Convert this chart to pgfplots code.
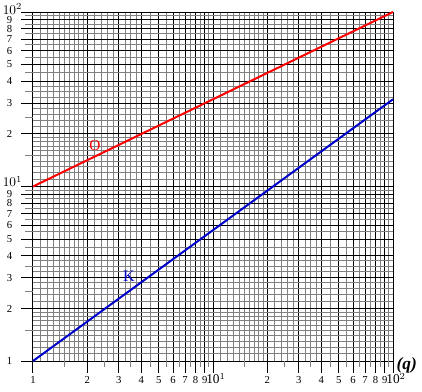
\documentclass[border=0pt]{standalone}
\usepackage{fontspec}
\setmainfont{Liberation Serif}
\usepackage{pgfplots}
\pgfplotsset{compat=1.18}
\definecolor{gridgray}{RGB}{128,128,128}
\definecolor{kblue}{RGB}{0,0,204}
\newcommand{\tenpow}[1]{{\fontsize{10}{10}\selectfont 10\rlap{$^{#1}$}}}
\begin{document}
\begin{tikzpicture}[x=1pt,y=1pt]
\begin{loglogaxis}[
  scale only axis,
  width=270pt, height=261.75pt,
  xmin=1, xmax=100, ymin=1, ymax=100,
  xtick={1,2,3,4,5,6,7,8,9,10,20,30,40,50,60,70,80,90,100},
  ytick={1,2,3,4,5,6,7,8,9,10,20,30,40,50,60,70,80,90,100},
  xticklabels={1,2,3,4,5,6,7,8,9,\tenpow{1},2,3,4,5,6,7,8,9,\tenpow{2}},
  yticklabels={1,2,3,4,5,6,7,8,9,{},2,3,4,5,6,7,8,9,{}},
  minor xtick={1.1,1.2,1.3,1.4,1.5,1.6,1.7,1.8,1.9,2.2,2.4,2.6,2.8,3.25,3.5,3.75,4.5,5.5,6.5,7.5,8.5,9.5,
               11,12,13,14,15,16,17,18,19,22,24,26,28,32.5,35,37.5,45,55,65,75,85,95},
  minor ytick={1.1,1.2,1.3,1.4,1.5,1.6,1.7,1.8,1.9,2.2,2.4,2.6,2.8,3.25,3.5,3.75,4.5,5.5,6.5,7.5,8.5,9.5,
               11,12,13,14,15,16,17,18,19,22,24,26,28,32.5,35,37.5,45,55,65,75,85,95},
  extra x ticks={1.5,2.5,3.5,4.5,5.5,6.5,7.5,8.5,9.5,15,25,35,45,55,65,75,85,95},
  extra y ticks={1.5,2.5,3.5,4.5,5.5,6.5,7.5,8.5,9.5,15,25,35,45,55,65,75,85,95},
  extra x tick labels={}, extra y tick labels={},
  extra x tick style={grid=none, xtick style={gridgray, line width=0.75pt}, major tick length=4.5pt},
  extra y tick style={grid=none, ytick style={gridgray, line width=0.75pt}, major tick length=6pt},
  grid=both,
  minor grid style={color=gridgray, line width=0.75pt},
  major grid style={color=black, line width=0.75pt},
  tick align=outside,
  xtick pos=bottom, ytick pos=left,
  major tick length=9pt,
  minor tick length=0pt,
  xtick style={black, line width=0.75pt},
  ytick style={black, line width=0.75pt},
  axis line style={black, line width=0.75pt},
  ticklabel style={font=\fontsize{8}{8}\selectfont, inner sep=0.5pt},
  xticklabel style={yshift=-1.5pt, text height=6pt},
  yticklabel style={xshift=-6pt},
  clip=false,
]
\addplot[red, line width=1.5pt] coordinates {(1,10) (100,100)};
\addplot[kblue, line width=1.5pt] coordinates {(1,1) (100,31.62)};
\node[red, font=\fontsize{11.5}{12}\selectfont] at (axis cs:2.21,17.1) {O};
\node[kblue, font=\fontsize{12}{12}\selectfont] at (axis cs:3.41,3.06) {K};
\node[anchor=base east, font=\fontsize{10}{10}\selectfont, inner sep=0pt] at ([xshift=-8pt,yshift=-1.5pt]axis cs:1,100) {$10^2$};
\node[anchor=base east, font=\fontsize{10}{10}\selectfont, inner sep=0pt] at ([xshift=-8pt,yshift=-0.3pt]axis cs:1,10) {$10^1$};
\node[anchor=west, font=\bfseries\itshape\fontsize{13}{14}\selectfont, inner sep=0pt] at ([xshift=2.5pt,yshift=-3pt]rel axis cs:1,0) {(q)};
\end{loglogaxis}
\pgfresetboundingbox
\path[use as bounding box] ([xshift=-24.75pt,yshift=-22.5pt]current axis.south west) rectangle ([xshift=21.75pt,yshift=9pt]current axis.north east);
\end{tikzpicture}
\end{document}
